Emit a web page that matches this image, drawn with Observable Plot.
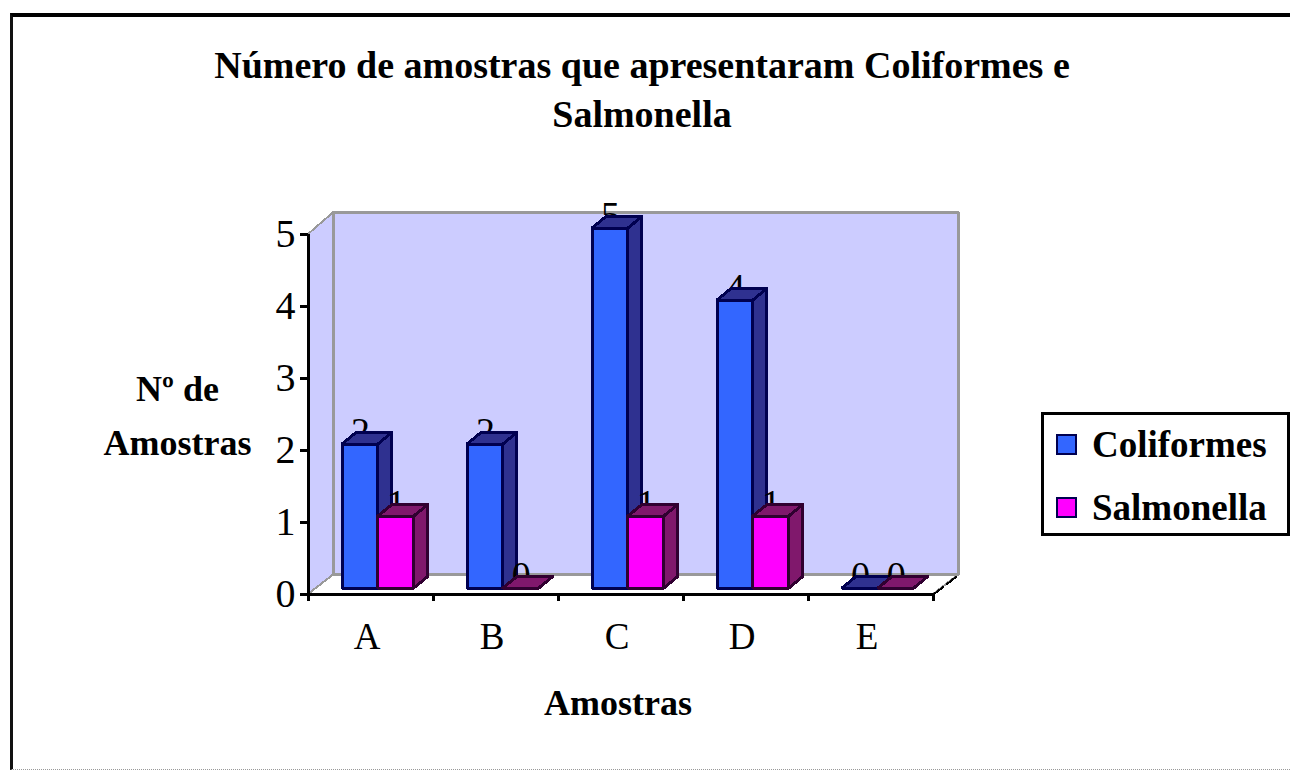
<!DOCTYPE html>
<html lang="pt">
<head>
<meta charset="utf-8">
<script src="https://cdn.jsdelivr.net/npm/d3@7"></script>
<script src="https://cdn.jsdelivr.net/npm/@observablehq/plot@0.6"></script>
<style>
  html, body { margin: 0; padding: 0; background: #fff; }
  #page { position: relative; width: 1290px; height: 772px; overflow: hidden; font-family: "Liberation Serif", serif; color: #000; }
  #frame { position: absolute; left: 10px; top: 13px; right: -10px; bottom: 2px; border-top: 4px solid #000; border-left: 3px solid #111; border-bottom: 1px dotted #999; }
  #title { position: absolute; left: 0; width: 1284px; top: 41px; text-align: center; font-weight: bold; font-size: 38px; line-height: 49px; }
  #legend { position: absolute; left: 1041px; top: 412px; width: 243px; height: 118px; border: 3px solid #000; background: #fff; font-weight: bold; font-size: 37px; }
  #legend .row { position: absolute; left: 12px; height: 40px; display: flex; align-items: center; white-space: nowrap; }
  #legend .sw { width: 17px; height: 17px; border: 2px solid #000050; margin-right: 15px; flex: none; }
  svg { position: absolute; left: 0; top: 0; }
</style>
</head>
<body>
<div id="page"><div id="frame"></div><div id="chart"></div>
<div id="title">Número de amostras que apresentaram Coliformes e<br>Salmonella</div>
<div id="legend"></div></div>
<script>
const categories = ["A", "B", "C", "D", "E"];
const coliformes = [2, 2, 5, 4, 0];
const salmonella = [1, 0, 1, 1, 0];
const seriesNames = ["Coliformes", "Salmonella"];
const yTicks = [0, 1, 2, 3, 4, 5];

// Oblique projection of the 3D box, in scale units
const wallDx = 0.2, wallDy = 0.27, wallTopDy = 0.3;
const barStart = 0.272, barW = 0.287, barBase = 0.083, barDx = 0.112, barDy = 0.16;

const quad = (id, a, b, c, d) => [
  {id, x1: a[0], y1: a[1], x2: d[0], y2: d[1]},
  {id, x1: b[0], y1: b[1], x2: c[0], y2: c[1]}
];
const face = (rows, fill, stroke, strokeWidth = 3) =>
  Plot.area(rows, {x1: "x1", y1: "y1", x2: "x2", y2: "y2", z: "id", fill, stroke, strokeWidth});

const n = categories.length, yMax = yTicks[yTicks.length - 1];
const walls = [
  face(quad("floor", [0, 0], [wallDx, wallDy], [n + wallDx, wallDy], [n, 0]), "#ffffff", "#999999", 2),
  face(quad("left", [0, yMax], [wallDx, yMax + wallTopDy], [wallDx, wallDy], [0, 0]), "#ccccff", "#999999", 2),
  face(quad("back", [wallDx, yMax + wallTopDy], [n + wallDx, yMax + wallTopDy], [n + wallDx, wallDy], [wallDx, wallDy]), "#ccccff", "#999999", 3),
  Plot.line([[n, 0], [n + wallDx, wallDy]], {stroke: "#000", strokeWidth: 2, strokeDasharray: "12 5"})
];

function barMarks(values, s, colors) {
  const bars = values.map((v, i) => ({v, x0: i + barStart + s * barW, x1: i + barStart + (s + 1) * barW, y0: barBase, y1: barBase + v}));
  const front = bars.flatMap((b, i) => quad(i, [b.x0, b.y1], [b.x1, b.y1], [b.x1, b.y0], [b.x0, b.y0]));
  const side = bars.flatMap((b, i) => quad(i, [b.x1, b.y1], [b.x1 + barDx, b.y1 + barDy], [b.x1 + barDx, b.y0 + barDy], [b.x1, b.y0]));
  const topF = bars.flatMap((b, i) => quad(i, [b.x0, b.y1], [b.x0 + barDx, b.y1 + barDy], [b.x1 + barDx, b.y1 + barDy], [b.x1, b.y1]));
  return [
    Plot.text(bars, {x: b => (b.x0 + b.x1) / 2, y: "y1", text: b => String(b.v), lineAnchor: "bottom", dy: -1, fontSize: 38, fill: "#000"}),
    face(side, colors.side, colors.stroke),
    face(topF, colors.side, colors.stroke),
    face(front, colors.front, colors.stroke)
  ];
}

const palette = [
  {front: "#3366ff", side: "#2f3190", stroke: "#000050"},
  {front: "#ff00ff", side: "#80186c", stroke: "#300030"}
];

const chart = Plot.plot({
  width: 1290, height: 772,
  marginLeft: 308, marginRight: 357, marginTop: 234, marginBottom: 178,
  x: {domain: [0, n], axis: null},
  y: {domain: [0, yMax], axis: null},
  style: {background: "transparent", fontFamily: "'Liberation Serif', serif", color: "#000", shapeRendering: "crispEdges", overflow: "visible"},
  marks: [
    ...walls,
    ...barMarks(coliformes, 0, palette[0]),
    ...barMarks(salmonella, 1, palette[1]),
    Plot.axisY({ticks: yTicks, tickSize: 8, tickPadding: 5, fontSize: 40, tickFormat: "d", label: null, strokeWidth: 3, anchor: "left"}),
    Plot.axisX({ticks: d3.range(n + 1), tickSize: 7, tickFormat: () => "", label: null, strokeWidth: 3, anchor: "bottom"}),
    Plot.axisX({ticks: categories.map((c, i) => i + 0.5), tickSize: 0, tickPadding: 28, fontSize: 37, label: null, anchor: "bottom", dx: -4, tickFormat: d => categories[d - 0.5]}),
    Plot.ruleX([0], {y1: 0, y2: yMax, stroke: "#000", strokeWidth: 3}),
    Plot.ruleY([0], {x1: -0.06, x2: n, stroke: "#000", strokeWidth: 3}),
    Plot.text(["Amostras"], {frameAnchor: "bottom", dx: -3, dy: 120, fontSize: 36, fontWeight: "bold", text: d => d}),
    Plot.text(["Nº de\nAmostras"], {frameAnchor: "left", textAnchor: "middle", dx: -131, dy: -4, fontSize: 36, fontWeight: "bold", lineHeight: 1.5, text: d => d})
  ]
});
document.getElementById("chart").appendChild(chart);

const legend = document.getElementById("legend");
seriesNames.forEach((name, i) => {
  const row = document.createElement("div");
  row.className = "row";
  row.style.top = (i === 0 ? 9 : 72) + "px";
  const sw = document.createElement("span");
  sw.className = "sw";
  sw.style.background = palette[i].front;
  row.appendChild(sw);
  row.appendChild(document.createTextNode(name));
  legend.appendChild(row);
});
</script>
</body>
</html>
